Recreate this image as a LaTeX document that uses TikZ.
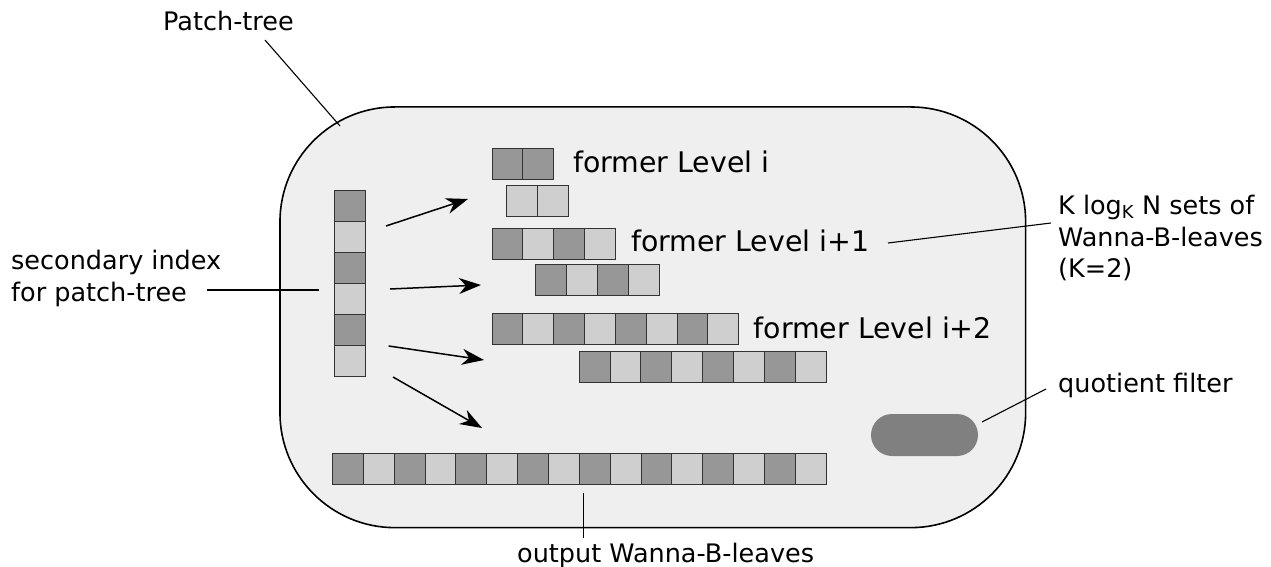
\documentclass[tikz,border=0pt]{standalone}
\usepackage{fontspec}
\setmainfont{DejaVu Sans}
\usetikzlibrary{arrows.meta}
\definecolor{bgfill}{HTML}{EFEFEF}
\definecolor{celldark}{HTML}{979797}
\definecolor{celllight}{HTML}{CFCFCF}
\definecolor{cellline}{HTML}{333333}
\definecolor{pillgray}{HTML}{808080}
\def\cw{30.85}
\def\ch{31}
\newcommand\cellrow[3]{\foreach \s [count=\k from 0] in {#3}{\draw[cell\s] ({#1+\k*\cw},{#2}) rectangle ++(\cw,\ch);}}
\newcommand\cellcol[3]{\foreach \s [count=\k from 0] in {#3}{\draw[cell\s] ({#1},{#2+\k*\ch}) rectangle ++(\cw,\ch);}}
\tikzset{
  celld/.style={fill=celldark, draw=cellline, line width=1pt},
  celll/.style={fill=celllight, draw=cellline, line width=1pt},
  lbl/.style={inner sep=0pt, anchor=base west, font=\fontsize{25.5}{30}\selectfont},
  flbl/.style={inner sep=0pt, anchor=base west, font=\fontsize{28.4}{34}\selectfont},
  conn/.style={line width=1.1pt, draw=black},
  arr/.style={line width=1.5pt, -{Stealth[length=22pt, width=16pt, inset=7pt]}},
}
\begin{document}
\begin{tikzpicture}[x=1pt, y=-1pt]
\useasboundingbox[fill=white] (0,0) rectangle (1271,567);
% patch-tree container
\node[draw=black, line width=1.6pt, fill=bgfill, rounded corners=115pt, inner sep=0pt,
      minimum width=745.7pt, minimum height=420.7pt] (tree) at (652.8,317.3) {};
% secondary index column
\cellcol{334.3}{190.3}{d,l,d,l,d,l}
% former level i
\cellrow{492}{148.5}{d,d}
\cellrow{506.7}{185}{l,l}
% former level i+1
\cellrow{492}{228.3}{d,l,d,l}
\cellrow{535.7}{264.7}{d,l,d,l}
% former level i+2
\cellrow{492}{313}{d,l,d,l,d,l,d,l}
\cellrow{579.2}{351.5}{d,l,d,l,d,l,d,l}
% output
\cellrow{332.5}{453}{d,l,d,l,d,l,d,l,d,l,d,l,d,l,d,l}
% quotient filter
\node[fill=pillgray, rounded corners=21pt, inner sep=0pt, minimum width=107pt, minimum height=42pt] (qf) at (924.5,435) {};
% labels
\node[lbl] (patch) at (163,31) {Patch-tree};
\node[lbl] (sec1) at (11,269) {secondary index};
\node[lbl] (sec2) at (11,301) {for patch-tree};
\node[flbl] (fl0) at (573,172.7) {former Level i};
\node[flbl] (fl1) at (631,251) {former Level i+1};
\node[flbl] (fl2) at (753.5,338) {former Level i+2};
\node[lbl] (k1) at (1058,214.5) {K log\textsubscript{K} N sets of};
\node[lbl] (k2) at (1058,246) {Wanna-B-leaves};
\node[lbl] (k3) at (1058,277.5) {(K=2)};
\node[lbl] (qlbl) at (1058,392) {quotient filter};
\node[lbl] (olbl) at (517,562) {output Wanna-B-leaves};
% connector end points
\coordinate (pa) at (265,40);   \coordinate (pb) at (340,126);
\coordinate (sa) at (207,290);  \coordinate (sb) at (319,290);
\coordinate (ka) at (888,243);  \coordinate (kb) at (1051,223);
\coordinate (qa) at (982,422);  \coordinate (qb) at (1046,389);
\coordinate (oa) at (583.3,492.7); \coordinate (ob) at (583.3,538);
\draw[conn] (pa) -- (pb);
\draw[conn] (sa) -- (sb);
\draw[conn] (ka) -- (kb);
\draw[conn] (qa) -- (qb);
\draw[conn] (oa) -- (ob);
% arrows
\coordinate (a1s) at (386,226);   \coordinate (a1e) at (468,199);
\coordinate (a2s) at (390,289);   \coordinate (a2e) at (481,285);
\coordinate (a3s) at (388.6,346); \coordinate (a3e) at (484,360);
\coordinate (a4s) at (393,377);   \coordinate (a4e) at (482,428);
\draw[arr] (a1s) -- (a1e);
\draw[arr] (a2s) -- (a2e);
\draw[arr] (a3s) -- (a3e);
\draw[arr] (a4s) -- (a4e);
\end{tikzpicture}
\end{document}
